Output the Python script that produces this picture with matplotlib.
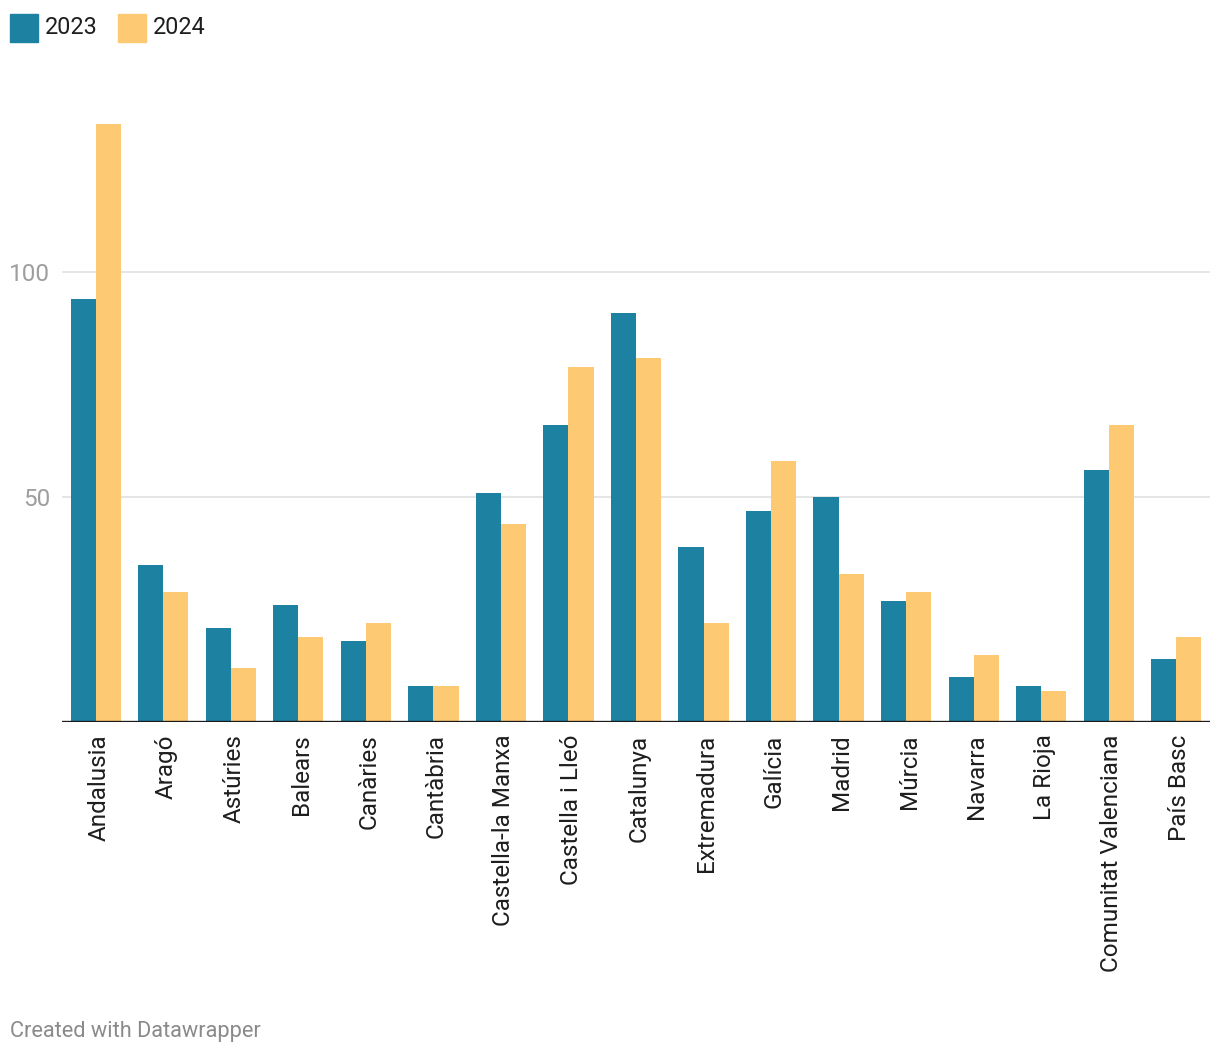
import matplotlib.pyplot as plt
import matplotlib.transforms as mtransforms
import numpy as np

plt.rcParams['font.family'] = ['Roboto', 'DejaVu Sans']

regions = ["Andalusia", "Aragó", "Astúries", "Balears", "Canàries", "Cantàbria",
           "Castella-la Manxa", "Castella i Lleó", "Catalunya", "Extremadura",
           "Galícia", "Madrid", "Múrcia", "Navarra", "La Rioja",
           "Comunitat Valenciana", "País Basc"]
vals_2023 = [94, 35, 21, 26, 18, 8, 51, 66, 91, 39, 47, 50, 27, 10, 8, 56, 14]
vals_2024 = [133, 29, 12, 19, 22, 8, 44, 79, 81, 22, 58, 33, 29, 15, 7, 66, 19]
years = ["2023", "2024"]
y_ticks = [50, 100]

blue = "#1d81a2"
yellow = "#fec973"

fig = plt.figure(figsize=(12.2, 10.54), dpi=100)
ax = fig.add_axes([62 / 1220, 332 / 1054, 1148 / 1220, 607.5 / 1054])

x = np.arange(len(regions))
w = 0.372
ax.bar(x - w / 2, vals_2023, width=w, color=blue, zorder=3)
ax.bar(x + w / 2, vals_2024, width=w, color=yellow, zorder=3)

ax.set_xlim(-0.5, len(regions) - 0.5)
ax.set_ylim(0, 135)

# gridlines
for t in y_ticks:
    ax.axhline(t, color="#e3e3e3", lw=1.3, zorder=1)
ax.axhline(0, color="#1a1a1a", lw=2.4, zorder=4)

ax.set_yticks(y_ticks)
ax.set_yticklabels([str(t) for t in y_ticks], fontsize=17.5, color="#9e9e9e")
ax.tick_params(axis="y", length=0, pad=8.5)
ax.set_xticks(x)
ax.set_xticklabels(regions, rotation=90, fontsize=17.5, color="#1e1e1e",
                   va="top", ha="center")
ax.tick_params(axis="x", length=0, pad=9)
shift = mtransforms.ScaledTranslation(3 / 100, 0, fig.dpi_scale_trans)
for lbl in ax.get_xticklabels():
    lbl.set_transform(lbl.get_transform() + shift)

for s in ax.spines.values():
    s.set_visible(False)

# legend
colors = [blue, yellow]
lx = [10, 118]
for i, yr in enumerate(years):
    fig.patches.append(plt.Rectangle((lx[i] / 1220, 1 - 42 / 1054), 28 / 1220, 28 / 1054,
                                     transform=fig.transFigure, color=colors[i]))
    fig.text((lx[i] + 35) / 1220, 1 - 27 / 1054, yr, fontsize=16.8, color="#1e1e1e",
             va="center", ha="left")

fig.text(10 / 1220, 1 - 1031 / 1054, "Created with Datawrapper", fontsize=15.7,
         color="#8a8a8a", va="center", ha="left")

fig.savefig("out.png", dpi=100, facecolor="white")
